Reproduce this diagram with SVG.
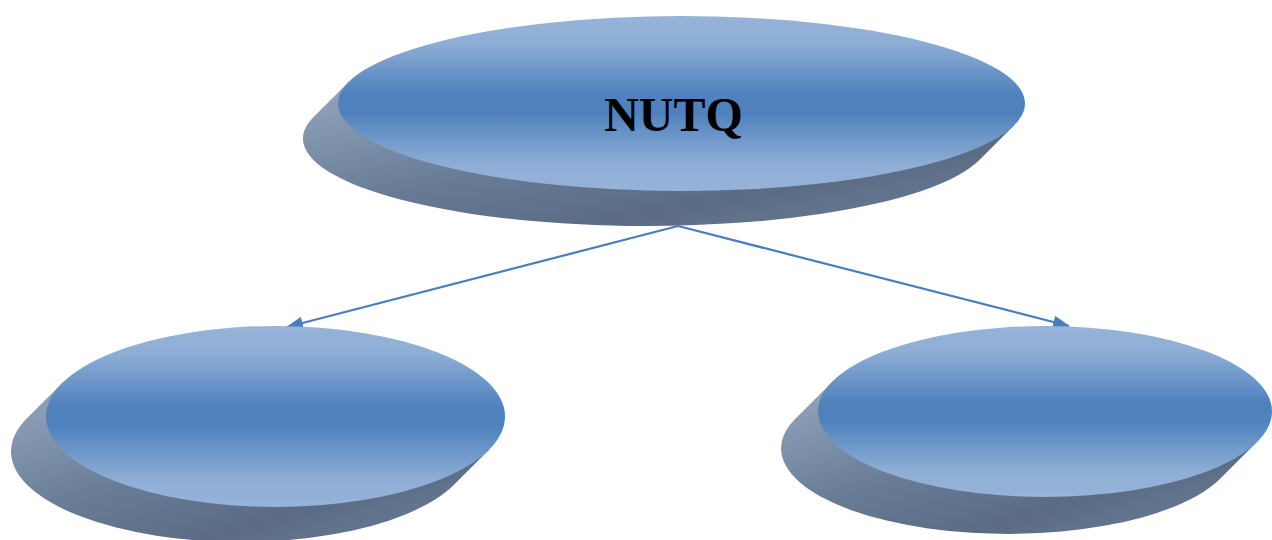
<svg xmlns="http://www.w3.org/2000/svg" width="1272" height="540" viewBox="0 0 1272 540">
<defs>
<linearGradient id="face" x1="0" y1="0" x2="0" y2="1">
<stop offset="0" stop-color="#96b3d8"/>
<stop offset="0.15" stop-color="#8eaed5"/>
<stop offset="0.45" stop-color="#4f81bd"/>
<stop offset="0.55" stop-color="#4f81bd"/>
<stop offset="0.85" stop-color="#8eaed5"/>
<stop offset="1" stop-color="#96b3d8"/>
</linearGradient>
<linearGradient id="side" x1="0" y1="0" x2="1" y2="1">
<stop offset="0" stop-color="#95a9c3"/>
<stop offset="0.45" stop-color="#687b95"/>
<stop offset="0.7" stop-color="#5b6b84"/>
<stop offset="1" stop-color="#6f829c"/>
</linearGradient>
<marker id="arrow" viewBox="0 0 16 12" refX="15" refY="6" markerWidth="17" markerHeight="13" markerUnits="userSpaceOnUse" orient="auto">
<path d="M0,0 L16,6 L0,12 Z" fill="#4a7ebb"/>
</marker>
<style>
.face{fill:url(#face);}
.side{fill:url(#side);}
.conn{stroke:#4a7ebb;stroke-width:2.2;fill:none;}
.lbl{font-family:"Liberation Serif","Times New Roman",serif;font-weight:bold;font-size:48px;fill:#000;text-anchor:middle;}
</style>
</defs>
<g id="connectors">
<line class="conn" x1="678" y1="226" x2="287" y2="327" marker-end="url(#arrow)"/>
<line class="conn" x1="678" y1="226" x2="1069" y2="326" marker-end="url(#arrow)"/>
</g>
<g id="node-nutq">
<path class="side" d="M348.6,81.9 L313.6,116.9 A343.5,87.5 0 1 0 979.4,160.1 L1014.4,125.1 L681.5,103.5 Z"/>
<ellipse class="face" cx="681.5" cy="103.5" rx="343.5" ry="87.5"/>
<text class="lbl" x="673.5" y="131">NUTQ</text>
</g>
<g id="node-left">
<path class="side" d="M62,383.3 L27,418.3 A229.5,90.5 0 1 0 454,484.7 L489,449.7 L275.5,416.5 Z"/>
<ellipse class="face" cx="275.5" cy="416.5" rx="229.5" ry="90.5"/>
</g>
<g id="node-right">
<path class="side" d="M832.6,381.4 L797.6,416.4 A227,85.5 0 1 0 1222.4,476.6 L1257.4,441.6 L1045,411.5 Z"/>
<ellipse class="face" cx="1045" cy="411.5" rx="227" ry="85.5"/>
</g>
</svg>
